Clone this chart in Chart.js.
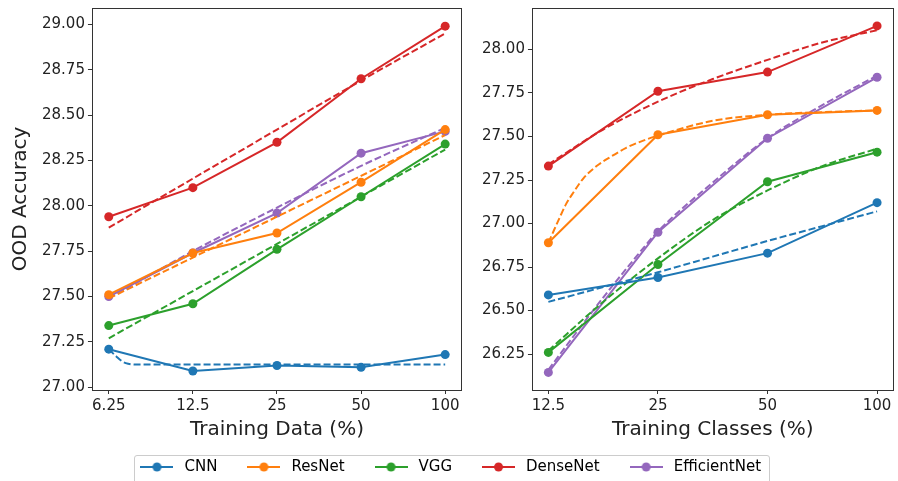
<!DOCTYPE html>
<html>
<head>
<meta charset="utf-8">
<script src="https://cdn.jsdelivr.net/npm/chart.js@4.4.1/dist/chart.umd.min.js"></script>
<style>
    html, body { margin: 0; padding: 0; background: #fff; overflow: hidden; }
    body { width: 898px; height: 481px; position: relative; }
    canvas { position: absolute; }
    #left { left: 0; top: -4px; }
    #right { left: 470px; top: -4px; }
    #legendbox { position: absolute; left: 134px; top: 455px; width: 636px; height: 40px;
        border: 1px solid #cccccc; border-radius: 3px; box-sizing: border-box; }
    #legend { left: 0; top: 433px; }
</style>
</head>
<body>
<canvas id="left" width="470" height="454"></canvas>
<canvas id="right" width="428" height="454"></canvas>
<div id="legendbox"></div>
<canvas id="legend" width="898" height="100"></canvas>
<script>
// ---- data ----
const models = ["CNN", "ResNet", "VGG", "DenseNet", "EfficientNet"];
const colors = ["#1f77b4", "#ff7f0e", "#2ca02c", "#d62728", "#9467bd"];

// left: Training Data (%)
const leftLabels = ["6.25", "12.5", "25", "50", "100"];
const leftX = [0, 1, 2, 3, 4];
const leftCNN = [27.21, 27.09, 27.12, 27.11, 27.18];
const leftResNet = [27.51, 27.74, 27.85, 28.13, 28.42];
const leftVGG = [27.34, 27.46, 27.76, 28.05, 28.34];
const leftDenseNet = [27.94, 28.10, 28.35, 28.70, 28.99];
const leftEfficientNet = [27.50, 27.74, 27.96, 28.29, 28.41];

const leftFitCNNX = [0, 0.09, 0.17, 0.23, 0.35, 1, 2, 3, 4];
const leftFitCNN = [27.21, 27.17, 27.14, 27.13, 27.125, 27.125, 27.125, 27.125, 27.125];
const leftFitResNet = [27.49, 27.715, 27.94, 28.165, 28.39];
const leftFitVGG = [27.27, 27.53, 27.79, 28.05, 28.31];
const leftFitDenseNet = [27.88, 28.15, 28.42, 28.69, 28.95];
const leftFitEfficientNet = [27.49, 27.75, 27.99, 28.22, 28.43];
const leftYTicks = [27.00, 27.25, 27.50, 27.75, 28.00, 28.25, 28.50, 28.75, 29.00];

// right: Training Classes (%)
const rightLabels = ["12.5", "25", "50", "100"];
const rightX = [0, 1, 2, 3];
const rightCNN = [26.59, 26.69, 26.83, 27.12];
const rightResNet = [26.89, 27.51, 27.625, 27.65];
const rightVGG = [26.26, 26.765, 27.24, 27.41];
const rightDenseNet = [27.33, 27.76, 27.87, 28.135];
const rightEfficientNet = [26.145, 26.95, 27.49, 27.84];

const rightFitX = [0, 0.5, 1, 1.5, 2, 2.5, 3];
const rightFitCNN = [26.55, 26.635, 26.72, 26.81, 26.90, 26.985, 27.07];
const rightFitVGG = [26.27, 26.55, 26.80, 27.02, 27.19, 27.33, 27.43];
const rightFitDenseNet = [27.34, 27.54, 27.70, 27.83, 27.94, 28.04, 28.11];
const rightFitEfficientNetX = [0, 0.25, 0.5, 0.75, 1, 1.5, 2, 2.5, 3];
const rightFitEfficientNet = [26.16, 26.37, 26.575, 26.77, 26.955, 27.235, 27.49, 27.68, 27.85];
const rightFitResNetX = [0, 0.05, 0.1, 0.16, 0.23, 0.32, 0.44, 0.56, 0.71, 0.86, 1, 1.5, 2, 2.5, 3];
const rightFitResNet = [26.89, 26.96, 27.03, 27.11, 27.18, 27.26, 27.33, 27.38, 27.435, 27.475, 27.505, 27.59, 27.625, 27.64, 27.65];
const rightYTicks = [26.25, 26.50, 26.75, 27.00, 27.25, 27.50, 27.75, 28.00];

// ---- helpers ----
Chart.defaults.font.family = "'DejaVu Sans', sans-serif";
Chart.defaults.color = "#222";

const pts = (xs, ys) => xs.map((x, i) => ({x: x, y: ys[i]}));

function solid(i, xs, ys) {
    return {
        label: models[i], data: pts(xs, ys), borderColor: colors[i], backgroundColor: colors[i],
        borderWidth: 2, pointRadius: 4.5, pointBorderWidth: 0, pointBackgroundColor: colors[i], tension: 0
    };
}

function fit(i, xs, ys) {
    return {
        label: models[i] + " fit", data: pts(xs, ys), borderColor: colors[i], borderWidth: 2,
        borderDash: [7, 3], pointRadius: 0, cubicInterpolationMode: "monotone"
    };
}

const frame = {
    id: "frame",
    afterDraw(chart) {
        const a = chart.chartArea;
        const ctx = chart.ctx;
        ctx.save();
        ctx.strokeStyle = "#333";
        ctx.lineWidth = 1;
        ctx.strokeRect(Math.round(a.left) + 0.5, Math.round(a.top) + 0.5,
            Math.round(a.right - a.left) - 1, Math.round(a.bottom - a.top));
        ctx.restore();
    }
};

function axes(labels, ticksX, xmin, xmax, ymin, ymax, yticks, xtitle, ytitle) {
    return {
        x: {
            type: "linear", min: xmin, max: xmax,
            afterBuildTicks: axis => { axis.ticks = ticksX.map(v => ({value: v})); },
            ticks: { callback: v => labels[v], font: {size: 15}, color: "#222", padding: 3, maxRotation: 0 },
            grid: { display: true, drawOnChartArea: false, drawTicks: true, tickLength: 4, color: "#333" },
            border: { display: false },
            title: { display: true, text: xtitle, font: {size: 20}, color: "#222", padding: {top: 0, bottom: 4} }
        },
        y: {
            min: ymin, max: ymax,
            afterBuildTicks: axis => { axis.ticks = yticks.map(v => ({value: v})); },
            ticks: { callback: v => v.toFixed(2), font: {size: 15}, color: "#222", padding: 3 },
            grid: { display: true, drawOnChartArea: false, drawTicks: true, tickLength: 4, color: "#333" },
            border: { display: false },
            title: { display: !!ytitle, text: ytitle, font: {size: 20}, color: "#222", padding: {top: 4, bottom: 6} }
        }
    };
}

const common = {
    responsive: false, animation: false,
    plugins: { legend: { display: false }, tooltip: { enabled: false } }
};

new Chart(document.getElementById("left"), {
    type: "line",
    data: {
        datasets: [
            solid(0, leftX, leftCNN), fit(0, leftFitCNNX, leftFitCNN),
            solid(1, leftX, leftResNet), fit(1, leftX, leftFitResNet),
            solid(2, leftX, leftVGG), fit(2, leftX, leftFitVGG),
            solid(3, leftX, leftDenseNet), fit(3, leftX, leftFitDenseNet),
            solid(4, leftX, leftEfficientNet), fit(4, leftX, leftFitEfficientNet)
        ]
    },
    options: Object.assign({}, common, {
        layout: { padding: {left: 5, right: 8, top: 3, bottom: 4} },
        scales: axes(leftLabels, leftX, -0.2, 4.2, 26.985, 29.09, leftYTicks, "Training Data (%)", "OOD Accuracy")
    }),
    plugins: [frame]
});

new Chart(document.getElementById("right"), {
    type: "line",
    data: {
        datasets: [
            solid(0, rightX, rightCNN), fit(0, rightFitX, rightFitCNN),
            solid(1, rightX, rightResNet), fit(1, rightFitResNetX, rightFitResNet),
            solid(2, rightX, rightVGG), fit(2, rightFitX, rightFitVGG),
            solid(3, rightX, rightDenseNet), fit(3, rightFitX, rightFitDenseNet),
            solid(4, rightX, rightEfficientNet), fit(4, rightFitEfficientNetX, rightFitEfficientNet)
        ]
    },
    options: Object.assign({}, common, {
        layout: { padding: {left: 9, right: 1, top: 3, bottom: 4} },
        scales: axes(rightLabels, rightX, -0.15, 3.15, 26.044, 28.238, rightYTicks, "Training Classes (%)", "")
    }),
    plugins: [frame]
});

// legend: line with a dot in the middle, like the plotted series
function legendIcon(color) {
    const c = document.createElement("canvas");
    c.width = 33;
    c.height = 12;
    const g = c.getContext("2d");
    g.strokeStyle = color;
    g.lineWidth = 2;
    g.beginPath();
    g.moveTo(0, 6);
    g.lineTo(33, 6);
    g.stroke();
    g.fillStyle = color;
    g.beginPath();
    g.arc(16.5, 6, 4.5, 0, Math.PI * 2);
    g.fill();
    return c;
}
const icons = colors.map(legendIcon);

new Chart(document.getElementById("legend"), {
    type: "line",
    data: { datasets: models.map((m, i) => ({label: m, data: [], borderColor: colors[i]})) },
    options: {
        responsive: false, animation: false,
        layout: { padding: 0 },
        scales: { x: {display: false}, y: {display: false} },
        plugins: {
            tooltip: { enabled: false },
            legend: {
                display: true, position: "top", align: "center",
                labels: {
                    usePointStyle: true, pointStyleWidth: 40, padding: 26.5,
                    font: {size: 15}, color: "#222",
                    generateLabels: chart => models.map((m, i) => ({
                        text: m, pointStyle: icons[i], fillStyle: colors[i], strokeStyle: colors[i],
                        lineWidth: 0, hidden: false, datasetIndex: i
                    }))
                }
            }
        }
    }
});
</script>
</body>
</html>
